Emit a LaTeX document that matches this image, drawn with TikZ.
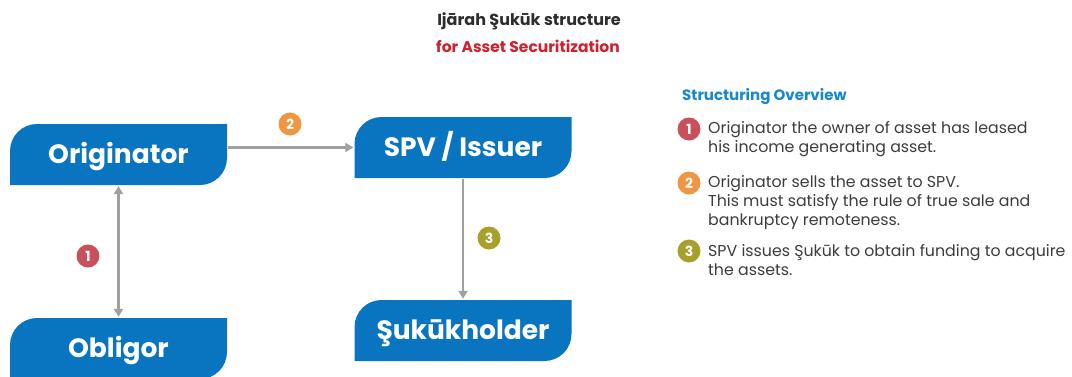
\documentclass[tikz,border=0pt]{standalone}
\usepackage{fontspec}
\setmainfont{Poppins}
\usetikzlibrary{positioning,arrows.meta}

\definecolor{boxblue}{RGB}{9,116,192}
\definecolor{titlegrey}{RGB}{45,45,45}
\definecolor{titlered}{RGB}{208,32,46}
\definecolor{headblue}{RGB}{24,135,205}
\definecolor{arrowgrey}{RGB}{160,160,162}
\definecolor{stepone}{RGB}{200,80,90}
\definecolor{steptwo}{RGB}{240,150,64}
\definecolor{stepthree}{RGB}{168,160,42}
\definecolor{bodygrey}{RGB}{60,60,60}

\begin{document}
\begin{tikzpicture}[x=1pt,y=-1pt,>={Triangle[length=8pt,width=9pt]},
  lease node/.style={rectangle, minimum width=217pt, minimum height=61pt, inner sep=0pt,
    text height=17pt, text depth=0pt,
    text=white, font=\bfseries\fontsize{26.5}{26.5}\selectfont,
    path picture={
      \fill[boxblue] (path picture bounding box.south west)
        -- ([yshift=-27pt]path picture bounding box.north west)
        arc[start angle=180, end angle=90, radius=27pt]
        -- (path picture bounding box.north east)
        -- ([yshift=27pt]path picture bounding box.south east)
        arc[start angle=0, end angle=-90, radius=27pt] -- cycle;}},
  step badge/.style={circle, fill=#1, text=white, inner sep=0pt, minimum size=23pt,
    font=\bfseries\fontsize{14}{14}\selectfont},
  flow/.style={draw=arrowgrey, line width=2.2pt, shorten >=1pt, shorten <=1pt},
  note/.style={anchor=north west, inner sep=0pt, align=left, text=bodygrey,
    font=\fontsize{15.8}{19}\selectfont}]

  \useasboundingbox (0,0) rectangle (1072,376);

  % title
  \node[text=titlegrey, font=\bfseries\fontsize{16}{16}\selectfont] (title) at (529,21) {Ijārah Şukūk structure};
  \node[text=titlered, font=\bfseries\fontsize{15.5}{15.5}\selectfont] (subtitle) at (528,46) {for Asset Securitization};

  % parties
  \node[lease node] (orig) at (118.5,154.5) {Originator};
  \node[lease node] (spv) at (463,147.5) {SPV / Issuer};
  \node[lease node] (oblig) at (118.5,348.5) {Obligor};
  \node[lease node] (holder) at (463,330.5) {Şukūkholder};

  \draw[flow,<->] (orig) -- (oblig);
  \draw[flow,->] (orig.east |- spv.west) -- (spv.west);
  \draw[flow,->] (spv) -- (holder);

  \node[step badge=stepone] (b1) at (88,256) {1};
  \node[step badge=steptwo] (b2) at (290,124) {2};
  \node[step badge=stepthree] (b3) at (489,238) {3};

  % overview
  \node[anchor=west, inner sep=0pt, text=headblue, font=\bfseries\fontsize{15}{15}\selectfont] (head) at (682,97) {Structuring Overview};

  \node[step badge=stepone] (n1) at (689,129) {1};
  \node[step badge=steptwo] (n2) at (689,183) {2};
  \node[step badge=stepthree] (n3) at (689,251) {3};

  \node[note] (t1) at (708,121) {Originator the owner of asset has leased\\his income generating asset.};
  \node[note] (t2) at (708,175) {Originator sells the asset to SPV.\\This must satisfy the rule of true sale and\\bankruptcy remoteness.};
  \node[note] (t3) at (708,244) {SPV issues Şukūk to obtain funding to acquire\\the assets.};
\end{tikzpicture}
\end{document}
